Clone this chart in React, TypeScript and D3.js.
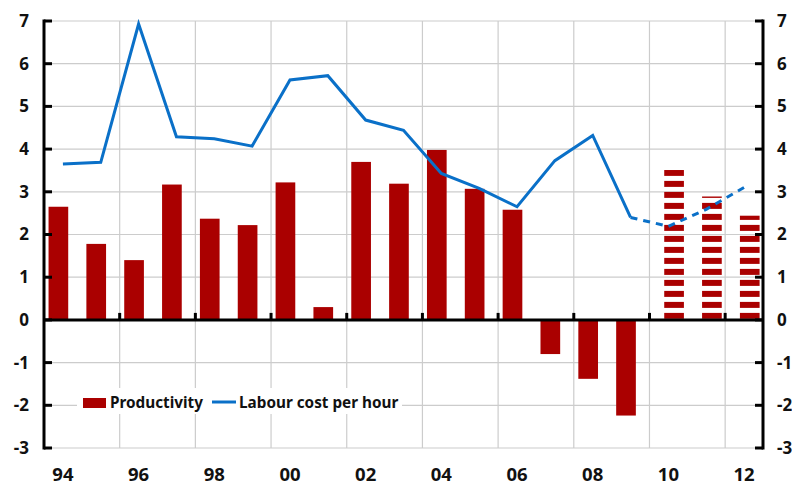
import React from 'react';
import * as d3 from 'd3';

const years = ['94', '95', '96', '97', '98', '99', '00', '01', '02', '03', '04', '05', '06', '07', '08', '09', '10', '11', '12'];
const productivity = [2.65, 1.78, 1.4, 3.17, 2.37, 2.22, 3.22, 0.3, 3.7, 3.19, 3.98, 3.07, 2.58, -0.8, -1.38, -2.24, null, null, null];
const productivityForecast = [null, null, null, null, null, null, null, null, null, null, null, null, null, null, null, null, 3.51, 2.89, 2.44];
const labourCost = [3.65, 3.69, 6.93, 4.29, 4.24, 4.07, 5.62, 5.72, 4.68, 4.44, 3.43, 3.08, 2.65, 3.73, 4.32, 2.4, 2.19, 2.59, 3.1];
const lastActual = 15; // index of 09, where the line turns dashed
const yTicks = [-3, -2, -1, 0, 1, 2, 3, 4, 5, 6, 7];
const xLabelYears = ['94', '96', '98', '00', '02', '04', '06', '08', '10', '12'];

const W = 792;
const H = 486;
const margin = { top: 21, right: 29, bottom: 38, left: 44 };
const RED = '#AA0000';
const BLUE = '#0A70C8';
const font = '"Noto Sans", "Open Sans", sans-serif';

export default function App() {
  const x = d3.scaleBand<string>().domain(years).range([margin.left, W - margin.right]).padding(0);
  const y = d3.scaleLinear().domain([-3, 7]).range([H - margin.bottom, margin.top]);
  const bw = x.bandwidth();
  const barW = bw * 0.52;
  const cx = (d: string) => (x(d) as number) + bw / 2;

  const line = d3.line<number>().x((_, i) => cx(years[i])).y(d => y(d));
  const solidPts = labourCost.slice(0, lastActual + 1);
  const dashedPts = labourCost.slice(lastActual);
  const dashLine = d3.line<number>().x((_, i) => cx(years[i + lastActual])).y(d => y(d));

  // vertical grid at band edges every 2 years (start of even years)
  const vGrid = years.filter((d, i) => i > 0 && i % 2 === 0).map(d => x(d) as number);
  const x0 = margin.left;
  const x1 = W - margin.right;
  const stripe = 11;

  return (
    <svg width={W} height={H} style={{ position: 'absolute', left: 0, top: 0, background: '#fff' }}>
      <defs>
        <pattern id="stripes" patternUnits="userSpaceOnUse" width={40} height={stripe} y={y(0) - 1 - stripe}>
          <rect x={0} y={stripe - 6} width={40} height={6} fill={RED} />
        </pattern>
      </defs>
      {yTicks.filter(t => t !== 0).map(t => (
        <line key={'h' + t} x1={x0} x2={x1} y1={y(t)} y2={y(t)} stroke="#cccccc" strokeWidth={1.2} />
      ))}
      {vGrid.map((gx, i) => (
        <line key={'v' + i} x1={gx} x2={gx} y1={y(7)} y2={y(-3)} stroke="#cccccc" strokeWidth={1.2} />
      ))}
      {years.map((d, i) => {
        const v = productivity[i];
        if (v == null) return null;
        return (
          <rect key={'b' + d} x={cx(d) - barW / 2 - bw * 0.12} width={barW}
            y={Math.min(y(v), y(0))} height={Math.abs(y(v) - y(0))} fill={RED} />
        );
      })}
      {years.map((d, i) => {
        const v = productivityForecast[i];
        if (v == null) return null;
        return (
          <rect key={'f' + d} x={cx(d) - barW / 2 + bw * 0.15} width={barW}
            y={y(v)} height={y(0) - y(v) - 1} fill="url(#stripes)" />
        );
      })}
      <path d={line(solidPts) || ''} fill="none" stroke={BLUE} strokeWidth={3} strokeLinejoin="miter" />
      <path d={dashLine(dashedPts) || ''} fill="none" stroke={BLUE} strokeWidth={3} strokeDasharray="7 6" />
      {/* zero axis */}
      <line x1={x0} x2={x1} y1={y(0)} y2={y(0)} stroke="#000" strokeWidth={3} />
      {vGrid.map((gx, i) => (
        <line key={'xt' + i} x1={gx} x2={gx} y1={y(0)} y2={y(0) - 7} stroke="#000" strokeWidth={3} />
      ))}
      {/* left & right axes */}
      <line x1={x0} x2={x0} y1={y(7) - 1.5} y2={y(-3) + 1.5} stroke="#000" strokeWidth={3} />
      <line x1={x1} x2={x1} y1={y(7) - 1.5} y2={y(-3) + 1.5} stroke="#000" strokeWidth={3} />
      {yTicks.map(t => (
        <g key={'yt' + t}>
          <line x1={x0} x2={x0 + 8} y1={y(t)} y2={y(t)} stroke="#000" strokeWidth={3} />
          <line x1={x1} x2={x1 - 8} y1={y(t)} y2={y(t)} stroke="#000" strokeWidth={3} />
          <text x={29} y={y(t)} dy="0.35em" textAnchor="end" fontFamily={font} fontWeight={700} fontSize={17} fill="#111">{t}</text>
          <text x={777} y={y(t)} dy="0.35em" textAnchor="start" fontFamily={font} fontWeight={700} fontSize={17} fill="#111">{t}</text>
        </g>
      ))}
      {xLabelYears.map(d => (
        <text key={'xl' + d} x={cx(d)} y={474.5} dy="0.35em" textAnchor="middle" fontFamily={font} fontWeight={700} fontSize={18.5} fill="#111">{d}</text>
      ))}
      {/* legend */}
      <rect x={77} y={388} width={325} height={26} fill="#fff" />
      <rect x={83} y={398} width={23} height={10} fill={RED} />
      <text x={110} y={403} dy="0.35em" fontFamily={font} fontWeight={700} fontSize={15.3} fill="#111">Productivity</text>
      <line x1={212} x2={236} y1={402} y2={402} stroke={BLUE} strokeWidth={3} />
      <text x={239} y={403} dy="0.35em" fontFamily={font} fontWeight={700} fontSize={15.3} fill="#111">Labour cost per hour</text>
    </svg>
  );
}
